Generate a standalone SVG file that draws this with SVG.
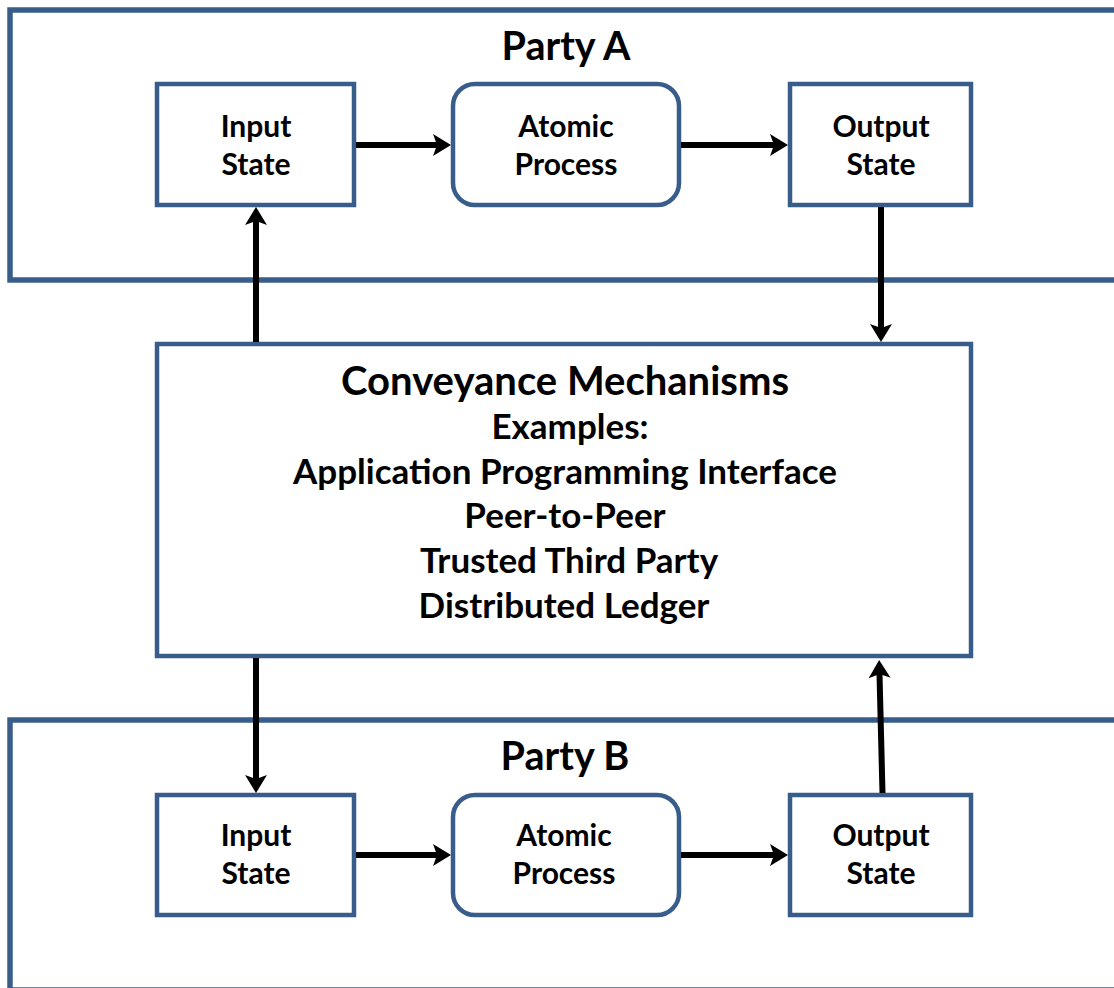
<svg xmlns="http://www.w3.org/2000/svg" width="1114" height="988" viewBox="0 0 1114 988">
  <style>
    .party { fill: none; stroke: #385D8A; stroke-width: 5.5; }
    .box { fill: #FFFFFF; stroke: #385D8A; stroke-width: 4.5; }
    .conn { fill: none; stroke: #000000; stroke-width: 6; marker-end: url(#arrow); }
    text { font-family: Lato, "Open Sans", "Liberation Sans", sans-serif; font-weight: bold; fill: #000000; text-anchor: middle; }
    .title { font-size: 40px; }
    .party-title { font-size: 39.5px; }
    .sub { font-size: 35px; }
    .lbl { font-size: 30px; }
  </style>
  <defs>
    <marker id="arrow" viewBox="0 0 18 22" markerWidth="18" markerHeight="22" refX="4" refY="11" markerUnits="userSpaceOnUse" orient="auto">
      <path d="M0,0 L18,11 L0,22 L4,11 Z" fill="#000000"/>
    </marker>
  </defs>
  <rect x="0" y="0" width="1114" height="988" fill="#FFFFFF"/>

  <!-- Party A -->
  <g id="party-a">
    <rect class="party" x="10" y="10" width="1120" height="270"/>
    <text class="party-title" x="566" y="60">Party A</text>
  </g>
  <g id="a-input">
    <rect class="box" x="157" y="84" width="197" height="121"/>
    <text class="lbl" x="256" y="137">Input</text>
    <text class="lbl" x="256" y="175">State</text>
  </g>
  <g id="a-process">
    <rect class="box" x="453" y="84" width="226" height="121" rx="22" ry="22"/>
    <text class="lbl" x="566" y="137">Atomic</text>
    <text class="lbl" x="566" y="175">Process</text>
  </g>
  <g id="a-output">
    <rect class="box" x="790" y="84" width="181" height="121"/>
    <text class="lbl" x="881" y="137">Output</text>
    <text class="lbl" x="881" y="175">State</text>
  </g>

  <!-- Conveyance -->
  <g id="conveyance">
    <rect class="box" x="157" y="344" width="814" height="312"/>
    <text class="title" x="565" y="395">Conveyance Mechanisms</text>
    <text class="sub" x="570" y="439">Examples:</text>
    <text class="sub" x="565" y="484">Application Programming Interface</text>
    <text class="sub" x="565" y="528">Peer-to-Peer</text>
    <text class="sub" x="569" y="573">Trusted Third Party</text>
    <text class="sub" x="564" y="618">Distributed Ledger</text>
  </g>

  <!-- Party B -->
  <g id="party-b">
    <rect class="party" x="10" y="720" width="1120" height="270"/>
    <text class="party-title" x="565" y="770">Party B</text>
  </g>
  <g id="b-input">
    <rect class="box" x="157" y="795" width="197" height="120"/>
    <text class="lbl" x="256" y="846">Input</text>
    <text class="lbl" x="256" y="884">State</text>
  </g>
  <g id="b-process">
    <rect class="box" x="453" y="795" width="226" height="120" rx="22" ry="22"/>
    <text class="lbl" x="564" y="846">Atomic</text>
    <text class="lbl" x="564" y="884">Process</text>
  </g>
  <g id="b-output">
    <rect class="box" x="790" y="795" width="181" height="120"/>
    <text class="lbl" x="881" y="846">Output</text>
    <text class="lbl" x="881" y="884">State</text>
  </g>

  <!-- Connectors -->
  <g id="connectors">
    <path class="conn" d="M356,145 L437,145"/>
    <path class="conn" d="M681,145 L774,145"/>
    <path class="conn" d="M881,207 L881,328"/>
    <path class="conn" d="M256,342 L256,221"/>
    <path class="conn" d="M256,658 L256,779"/>
    <path class="conn" d="M356,855 L437,855"/>
    <path class="conn" d="M681,855 L774,855"/>
    <path class="conn" d="M882.5,793 L879.5,674"/>
  </g>
</svg>
